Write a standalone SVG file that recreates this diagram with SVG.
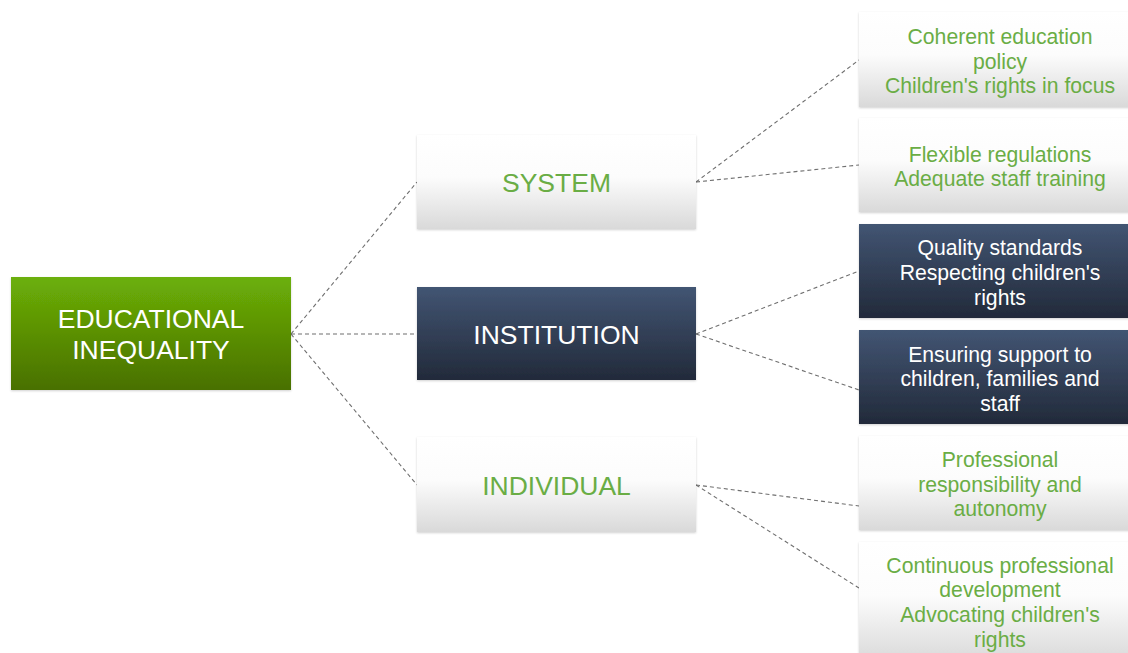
<svg xmlns="http://www.w3.org/2000/svg" width="1128" height="653" viewBox="0 0 1128 653">
<defs>
<linearGradient id="gGreen" x1="0" y1="0" x2="0" y2="1"><stop offset="0" stop-color="#6cb008"/><stop offset="1" stop-color="#497000"/></linearGradient>
<linearGradient id="gNavy" x1="0" y1="0" x2="0" y2="1"><stop offset="0" stop-color="#425573"/><stop offset="1" stop-color="#222a3a"/></linearGradient>
<linearGradient id="gWhite" x1="0" y1="0" x2="0" y2="1"><stop offset="0" stop-color="#ffffff"/><stop offset="0.45" stop-color="#fcfcfc"/><stop offset="1" stop-color="#d9d9d9"/></linearGradient>
<filter id="sh" x="-5%" y="-5%" width="110%" height="115%"><feDropShadow dx="0" dy="1" stdDeviation="1.2" flood-color="#000" flood-opacity="0.18"/></filter>
</defs>
<style>
text{font-family:"Liberation Sans",Arial,sans-serif;text-anchor:middle}
.big{font-size:26.5px}
.sm{font-size:21.2px}
.w{fill:#ffffff}
.g{fill:#6aad45}
.conn line{stroke:#6f6f6f;stroke-width:1.1;stroke-dasharray:4 3;fill:none}
</style>
<rect width="1128" height="653" fill="#ffffff"/>
<g class="conn">
<line x1="291" y1="334" x2="417" y2="182"/>
<line x1="291" y1="334" x2="417" y2="334"/>
<line x1="291" y1="334" x2="417" y2="485"/>
<line x1="696" y1="182" x2="859" y2="60"/>
<line x1="696" y1="182" x2="859" y2="165"/>
<line x1="696" y1="334" x2="859" y2="271"/>
<line x1="696" y1="334" x2="859" y2="390"/>
<line x1="696" y1="485" x2="859" y2="506"/>
<line x1="696" y1="485" x2="859" y2="588"/>
</g>
<g id="root">
<rect x="11" y="277" width="280" height="113" fill="url(#gGreen)" filter="url(#sh)"/>
<text class="big w" x="151" y="328">EDUCATIONAL</text>
<text class="big w" x="151" y="359">INEQUALITY</text>
</g>
<g id="system">
<rect x="417" y="135" width="279" height="94" fill="url(#gWhite)" filter="url(#sh)"/>
<text class="big g" x="556.5" y="192">SYSTEM</text>
</g>
<g id="institution">
<rect x="417" y="287" width="279" height="93" fill="url(#gNavy)" filter="url(#sh)"/>
<text class="big w" x="556.5" y="344">INSTITUTION</text>
</g>
<g id="individual">
<rect x="417" y="437" width="279" height="95" fill="url(#gWhite)" filter="url(#sh)"/>
<text class="big g" x="556.5" y="495">INDIVIDUAL</text>
</g>
<g id="c1">
<rect x="859" y="12" width="282" height="95" fill="url(#gWhite)" filter="url(#sh)"/>
<text class="sm g" x="1000" y="44">Coherent education</text>
<text class="sm g" x="1000" y="69">policy</text>
<text class="sm g" x="1000" y="93">Children's rights in focus</text>
</g>
<g id="c2">
<rect x="859" y="118" width="282" height="94" fill="url(#gWhite)" filter="url(#sh)"/>
<text class="sm g" x="1000" y="162">Flexible regulations</text>
<text class="sm g" x="1000" y="186">Adequate staff training</text>
</g>
<g id="c3">
<rect x="859" y="224" width="282" height="94" fill="url(#gNavy)" filter="url(#sh)"/>
<text class="sm w" x="1000" y="255">Quality standards</text>
<text class="sm w" x="1000" y="280">Respecting children's</text>
<text class="sm w" x="1000" y="305">rights</text>
</g>
<g id="c4">
<rect x="859" y="330" width="282" height="94" fill="url(#gNavy)" filter="url(#sh)"/>
<text class="sm w" x="1000" y="362">Ensuring support to</text>
<text class="sm w" x="1000" y="386">children, families and</text>
<text class="sm w" x="1000" y="411">staff</text>
</g>
<g id="c5">
<rect x="859" y="436" width="282" height="94" fill="url(#gWhite)" filter="url(#sh)"/>
<text class="sm g" x="1000" y="467">Professional</text>
<text class="sm g" x="1000" y="492">responsibility and</text>
<text class="sm g" x="1000" y="516">autonomy</text>
</g>
<g id="c6">
<rect x="859" y="542" width="282" height="120" fill="url(#gWhite)" filter="url(#sh)"/>
<text class="sm g" x="1000" y="573">Continuous professional</text>
<text class="sm g" x="1000" y="597">development</text>
<text class="sm g" x="1000" y="622">Advocating children's</text>
<text class="sm g" x="1000" y="647">rights</text>
</g>
</svg>
